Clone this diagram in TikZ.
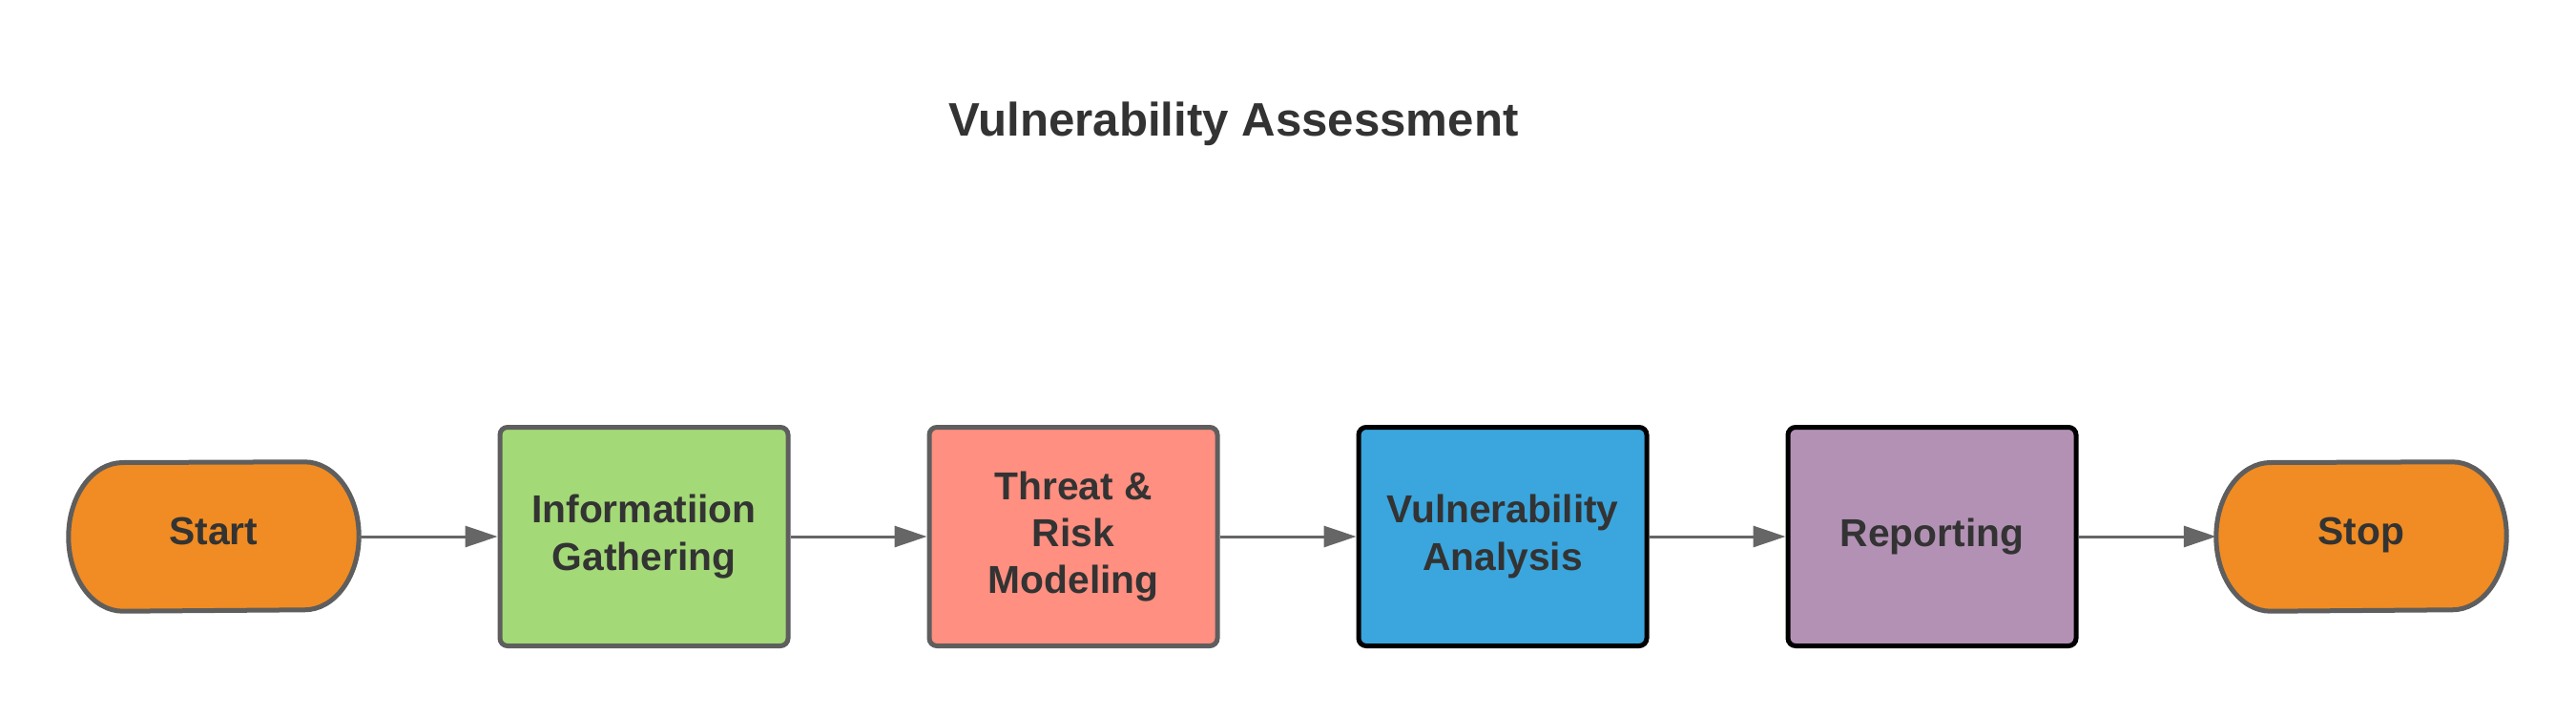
\documentclass[tikz,border=0pt]{standalone}
\usepackage{fontspec}
\setmainfont{Liberation Sans}
\usetikzlibrary{arrows.meta,positioning,backgrounds}
\definecolor{termorange}{RGB}{240,140,35}
\definecolor{stepgreen}{RGB}{163,217,119}
\definecolor{stepsalmon}{RGB}{255,143,128}
\definecolor{stepblue}{RGB}{58,166,221}
\definecolor{steppurple}{RGB}{179,145,181}
\definecolor{edgegray}{RGB}{94,94,94}
\definecolor{textgray}{RGB}{51,51,51}
\definecolor{arrowgray}{RGB}{102,102,102}
\tikzstyle{stepbox}=[rectangle,rounded corners=0.08cm,draw=edgegray,line width=0.05cm,
  minimum width=3.02cm,minimum height=2.29cm,align=center,text=textgray,
  font=\fontsize{11.6}{14}\selectfont\bfseries]
\tikzstyle{terminal}=[rectangle,minimum width=3.03cm,minimum height=1.55cm,
  text height=0.72em,text depth=0.21em,text=textgray,font=\fontsize{11.6}{14}\selectfont\bfseries]
\tikzstyle{termshape}=[fill=termorange,draw=edgegray,line width=0.05cm,line join=round]
\tikzstyle{flow}=[draw=arrowgray,line width=0.03cm,-{Triangle[length=0.34cm,width=0.22cm]}]

\begin{document}
\begin{tikzpicture}
        \useasboundingbox (0,0) rectangle (27,7.5);
        \node[text=textgray,font=\fontsize{14}{17}\selectfont\bfseries] (title) at (12.93,6.2) {Vulnerability Assessment};
        \node[terminal] (start) at (2.24,1.88) {Start};
        \node[stepbox,fill=stepgreen] (gather) at (6.75,1.88) {Informatiion\\Gathering};
        \node[stepbox,fill=stepsalmon] (threat) at (11.25,1.88) {Threat \&\\Risk\\Modeling};
        \node[stepbox,fill=stepblue,draw=black] (analysis) at (15.75,1.88) {Vulnerability\\Analysis};
        \node[stepbox,fill=steppurple,draw=black] (report) at (20.25,1.88) {Reporting};
        \node[terminal] (stop) at (24.75,1.88) {Stop};
        % rounded ends of start and stop
        \begin{scope}[on background layer]
            \foreach \t in {start,stop}
                \filldraw[termshape] (\t.west)
                    arc[start angle=180,end angle=90,x radius=0.57cm,y radius=0.775cm]
                    -- ([xshift=-0.57cm]\t.north east)
                    arc[start angle=90,end angle=-90,x radius=0.57cm,y radius=0.775cm]
                    -- ([xshift=0.57cm]\t.south west)
                    arc[start angle=270,end angle=180,x radius=0.57cm,y radius=0.775cm] -- cycle;
        \end{scope}
        \draw[flow] (start) -- (gather);
        \draw[flow] (gather) -- (threat);
        \draw[flow] (threat) -- (analysis);
        \draw[flow] (analysis) -- (report);
        \draw[flow] (report) -- (stop);
    \end{tikzpicture}
\end{document}
